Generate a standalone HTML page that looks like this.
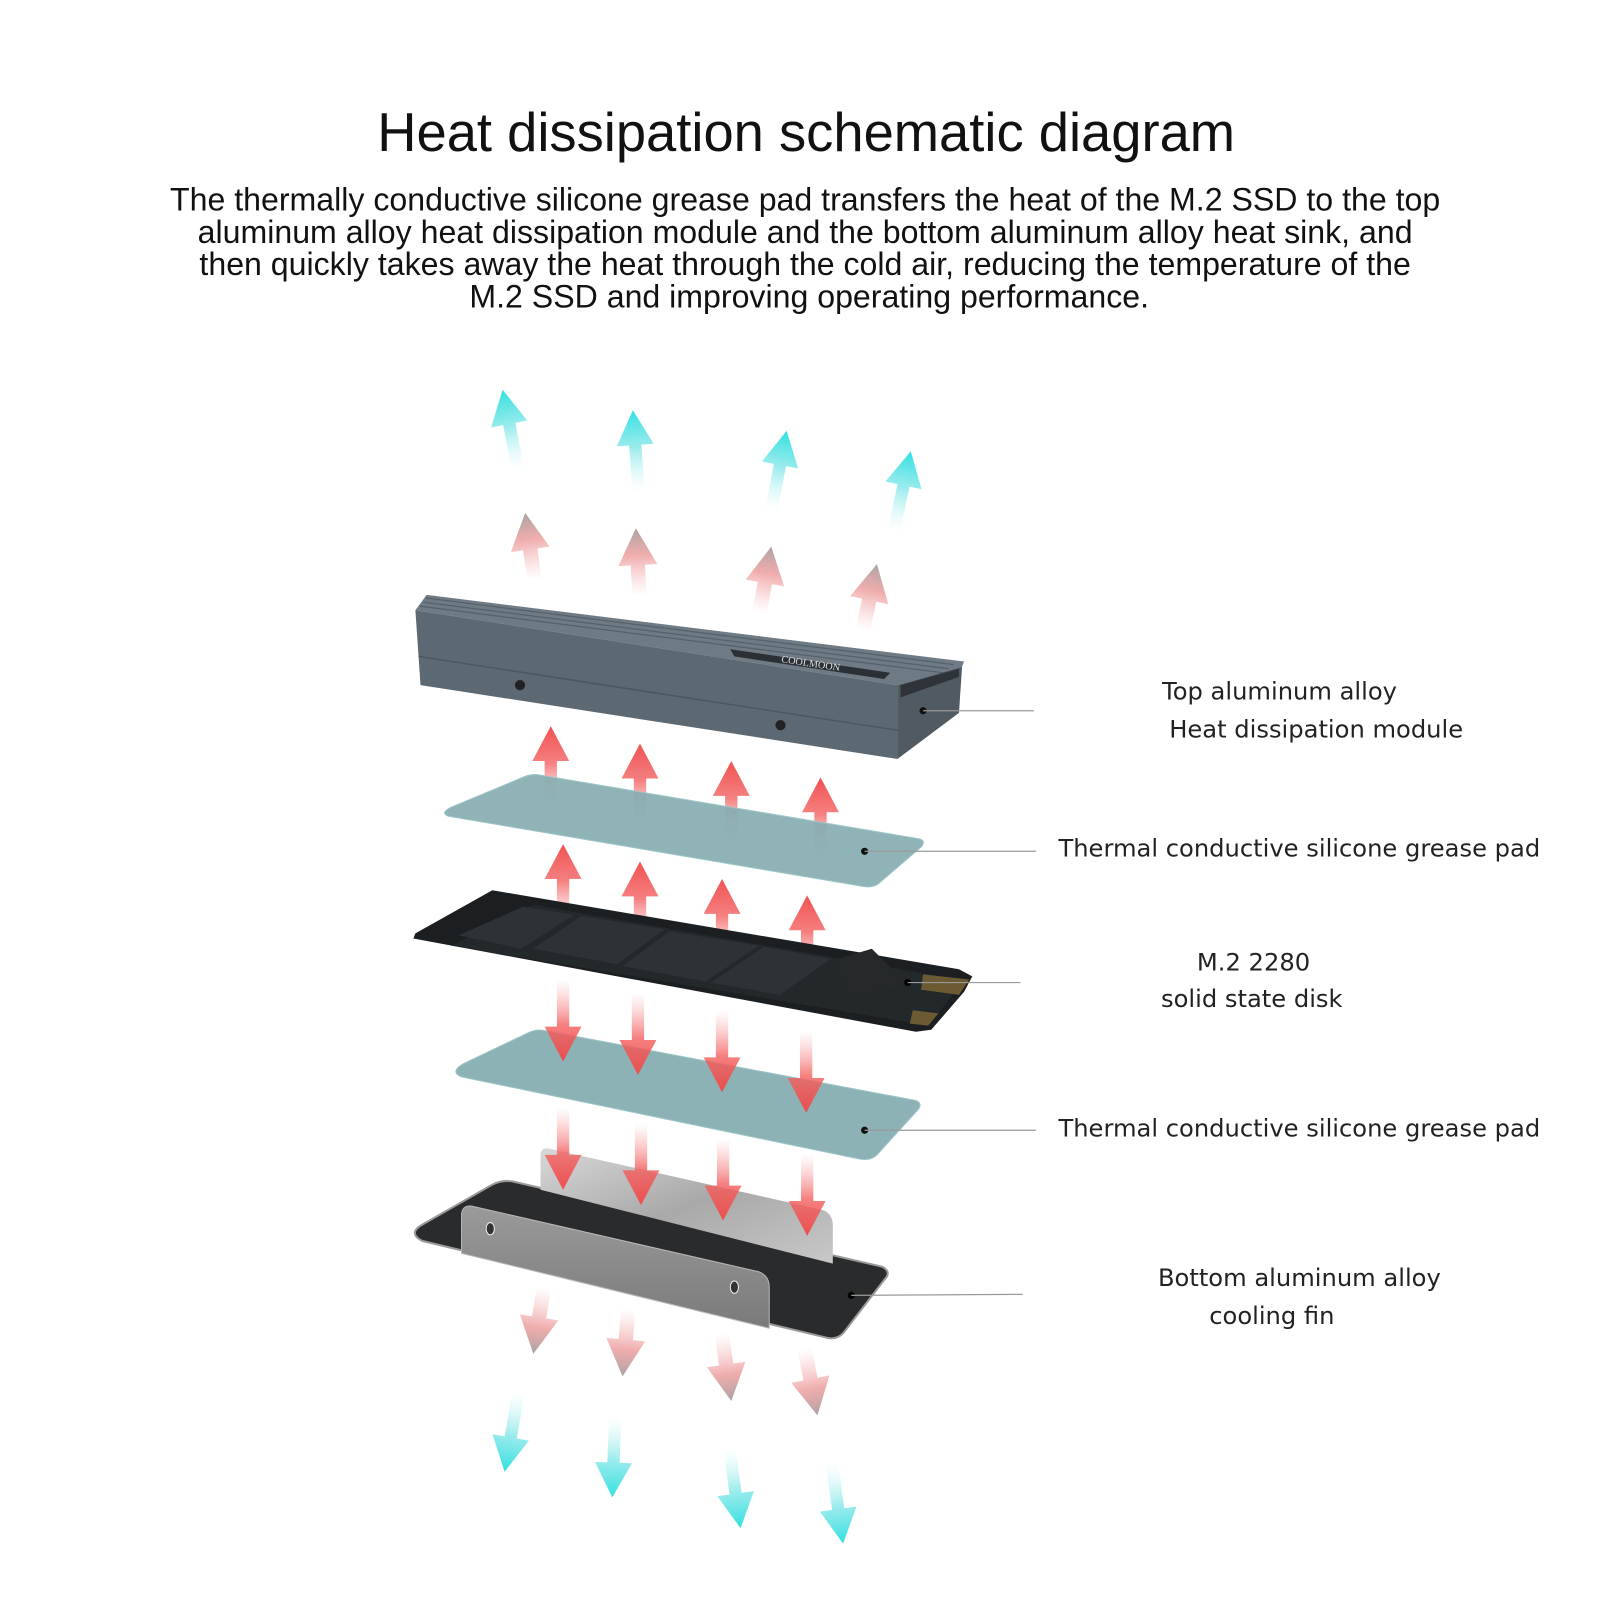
<!DOCTYPE html>
<html><head><meta charset="utf-8"><style>
html,body{margin:0;padding:0;background:#fff;}
svg{display:block}
</style></head><body>
<svg width="1600" height="1600" viewBox="0 0 1560 1560" xmlns="http://www.w3.org/2000/svg">
<defs>
<linearGradient id="gr" x1="0" y1="0" x2="0" y2="1">
<stop offset="0" stop-color="#f04848" stop-opacity="0.95"/><stop offset="0.45" stop-color="#f36060" stop-opacity="0.8"/><stop offset="1" stop-color="#f8a0a0" stop-opacity="0"/></linearGradient>
<linearGradient id="gf" x1="0" y1="0" x2="0" y2="1">
<stop offset="0" stop-color="#a09a9a" stop-opacity="0.9"/><stop offset="0.4" stop-color="#e98a8a" stop-opacity="0.7"/><stop offset="1" stop-color="#f7b0b0" stop-opacity="0"/></linearGradient>
<linearGradient id="gc" x1="0" y1="0" x2="0" y2="1">
<stop offset="0" stop-color="#30e0e0"/><stop offset="0.45" stop-color="#80e6e8" stop-opacity="0.8"/><stop offset="1" stop-color="#d0f6f6" stop-opacity="0"/></linearGradient>
<path id="ar" d="M0,0 L18,34 L6,34 L6,80 L-6,80 L-6,34 L-18,34 Z"/>
<path id="ar2" d="M0,0 L19,36 L7,36 L7,66 L-7,66 L-7,36 L-19,36 Z"/>
<linearGradient id="silver" x1="0" y1="0" x2="1" y2="1">
<stop offset="0" stop-color="#d8d8d8"/><stop offset="0.5" stop-color="#a9a9a9"/><stop offset="1" stop-color="#c8c8c8"/></linearGradient>
<linearGradient id="silver2" x1="0" y1="0" x2="0" y2="1">
<stop offset="0" stop-color="#9a9a9a"/><stop offset="1" stop-color="#7a7a7a"/></linearGradient>
</defs>

<text x="786" y="147" font-family="Liberation Sans, sans-serif" font-size="53" text-anchor="middle" fill="#111">Heat dissipation schematic diagram</text>
<g font-family="Liberation Sans, sans-serif" font-size="31.3" text-anchor="middle" fill="#111">
<text x="785" y="205">The thermally conductive silicone grease pad transfers the heat of the M.2 SSD to the top</text>
<text x="785" y="237">aluminum alloy heat dissipation module and the bottom aluminum alloy heat sink, and</text>
<text x="785" y="268">then quickly takes away the heat through the cold air, reducing the temperature of the</text>
<text x="789" y="300">M.2 SSD and improving operating performance.</text>
</g>

<use href="#ar" fill="url(#gc)" transform="translate(490,380) rotate(-11)"/>
<use href="#ar" fill="url(#gc)" transform="translate(617,400) rotate(-4)"/>
<use href="#ar" fill="url(#gc)" transform="translate(767,420) rotate(11)"/>
<use href="#ar" fill="url(#gc)" transform="translate(888,440) rotate(12)"/>
<use href="#ar2" fill="url(#gf)" transform="translate(512,500) rotate(-8)"/>
<use href="#ar2" fill="url(#gf)" transform="translate(620,515) rotate(-3)"/>
<use href="#ar2" fill="url(#gf)" transform="translate(752,533) rotate(10)"/>
<use href="#ar2" fill="url(#gf)" transform="translate(855,550) rotate(12)"/>

<polygon points="405,595 416,580 940,645 938,650 875,668" fill="#6e7a84"/>
<g stroke="#56616a" stroke-width="1.2">
<line x1="415" y1="583" x2="930" y2="648"/><line x1="412" y1="587" x2="925" y2="652"/><line x1="409" y1="591" x2="920" y2="656"/>
</g>
<polygon points="405,595 875,668 875,740 410,668" fill="#5d6972"/>
<line x1="408" y1="640" x2="875" y2="712" stroke="#4d575f" stroke-width="1.5"/>
<polygon points="875,668 938,650 935,695 875,740" fill="#4f5a62"/>
<polygon points="878,668 935,652 935,660 878,680" fill="#2e3439"/>
<polygon points="712,633 868,656 862,662 716,640" fill="#2a3035"/>
<text x="790" y="650" font-family="Liberation Serif, serif" font-size="10" fill="#ddd" transform="rotate(8.5 790 650)" text-anchor="middle">COOLMOON</text>
<circle cx="507" cy="668" r="5" fill="#222"/><circle cx="761" cy="707" r="5" fill="#222"/><circle cx="900" cy="693" r="3.5" fill="#111"/>
<line x1="900" y1="693" x2="1008" y2="693" stroke="#999" stroke-width="1.2"/>

<use href="#ar" fill="url(#gr)" transform="translate(537,708)"/>
<use href="#ar" fill="url(#gr)" transform="translate(624,725)"/>
<use href="#ar" fill="url(#gr)" transform="translate(713,742)"/>
<use href="#ar" fill="url(#gr)" transform="translate(800,758)"/>

<path d="M440,787 L512,757 Q520,754 528,756 L897,818 Q903,820 898,826 L856,862 Q850,866 840,864 L438,796 Q428,793 440,787Z" fill="#86adb1" fill-opacity="0.92" stroke="#9cc5c8" stroke-width="1"/>
<circle cx="843" cy="830" r="3.5" fill="#111"/>
<line x1="843" y1="830" x2="1010" y2="830" stroke="#999" stroke-width="1.2"/>

<use href="#ar" fill="url(#gr)" transform="translate(549,823)"/>
<use href="#ar" fill="url(#gr)" transform="translate(624,840)"/>
<use href="#ar" fill="url(#gr)" transform="translate(704,857)"/>
<use href="#ar" fill="url(#gr)" transform="translate(787,873)"/>

<polygon points="405,910 480,868 935,945 948,952 940,967 908,1004 893,1006 403,915" fill="#1c1f21"/>
<polygon points="440,922 520,882 940,956 905,1000" fill="#23282b"/>
<g fill="#2c3236">
<polygon points="447,912 510,884 560,892 508,925"/>
<polygon points="520,925 567,893 648,906 602,940"/>
<polygon points="607,942 653,908 740,922 688,957"/>
<polygon points="693,958 745,923 810,935 760,970"/>
</g>
<polygon points="810,937 850,925 885,960 830,972" fill="#25292c"/>
<polygon points="900,950 945,955 935,970 898,965" fill="#6b5a32"/>
<polygon points="890,985 915,988 905,1000 887,998" fill="#6b5a32"/>
<circle cx="885" cy="958" r="3.5" fill="#000"/>
<line x1="885" y1="958" x2="995" y2="958" stroke="#999" stroke-width="1.2"/>

<path d="M452,1037 L515,1007 Q522,1003 532,1005 L893,1073 Q900,1076 895,1082 L855,1126 Q849,1132 838,1130 L450,1050 Q438,1045 452,1037Z" fill="#83abaf" fill-opacity="0.92" stroke="#9cc5c8" stroke-width="1"/>
<circle cx="843" cy="1102" r="3.5" fill="#111"/>
<line x1="843" y1="1102" x2="1010" y2="1102" stroke="#999" stroke-width="1.2"/>

<use href="#ar" fill="url(#gr)" transform="translate(549,1035) rotate(180)"/>
<use href="#ar" fill="url(#gr)" transform="translate(622,1048) rotate(180)"/>
<use href="#ar" fill="url(#gr)" transform="translate(704,1065) rotate(180)"/>
<use href="#ar" fill="url(#gr)" transform="translate(786,1085) rotate(180)"/>

<path d="M410,1195 L480,1155 Q490,1150 500,1152 L860,1235 Q870,1240 862,1248 L822,1300 Q815,1307 805,1304 L412,1210 Q398,1203 410,1195Z" fill="#2a2b2c" stroke="#9a9a9a" stroke-width="2"/>
<path d="M527,1125 Q528,1118 536,1120 L803,1180 Q812,1184 812,1195 L812,1232 L527,1160Z" fill="url(#silver)"/>
<use href="#ar" fill="url(#gr)" transform="translate(549,1160) rotate(180)"/>
<use href="#ar" fill="url(#gr)" transform="translate(625,1175) rotate(180)"/>
<use href="#ar" fill="url(#gr)" transform="translate(705,1190) rotate(180)"/>
<use href="#ar" fill="url(#gr)" transform="translate(787,1205) rotate(180)"/>
<path d="M450,1185 Q450,1175 460,1176 L740,1240 Q750,1244 750,1255 L750,1295 L450,1222Z" fill="url(#silver2)" stroke="#b8b8b8" stroke-width="1"/>
<ellipse cx="478" cy="1198" rx="4" ry="6" fill="#333" stroke="#eee"/>
<ellipse cx="716" cy="1255" rx="4" ry="6" fill="#333" stroke="#eee"/>
<circle cx="830" cy="1263" r="3.5" fill="#000"/>
<line x1="830" y1="1263" x2="997" y2="1262" stroke="#999" stroke-width="1.2"/>

<use href="#ar2" fill="url(#gf)" transform="translate(520,1320) rotate(189)"/>
<use href="#ar2" fill="url(#gf)" transform="translate(607,1342) rotate(185)"/>
<use href="#ar2" fill="url(#gf)" transform="translate(713,1366) rotate(172)"/>
<use href="#ar2" fill="url(#gf)" transform="translate(797,1380) rotate(169)"/>
<use href="#ar" fill="url(#gc)" transform="translate(492,1435) rotate(190)"/>
<use href="#ar" fill="url(#gc)" transform="translate(597,1460) rotate(182)"/>
<use href="#ar" fill="url(#gc)" transform="translate(722,1490) rotate(172)"/>
<use href="#ar" fill="url(#gc)" transform="translate(822,1505) rotate(172)"/>

<g font-family="DejaVu Sans, Liberation Sans, sans-serif" font-size="23.6" fill="#222">
<text x="1133" y="682">Top aluminum alloy</text>
<text x="1140" y="719">Heat dissipation module</text>
<text x="1032" y="835">Thermal conductive silicone grease pad</text>
<text x="1167" y="946">M.2 2280</text>
<text x="1132" y="982">solid state disk</text>
<text x="1032" y="1108">Thermal conductive silicone grease pad</text>
<text x="1129" y="1254">Bottom aluminum alloy</text>
<text x="1179" y="1291">cooling fin</text>
</g>
</svg>
</body></html>
